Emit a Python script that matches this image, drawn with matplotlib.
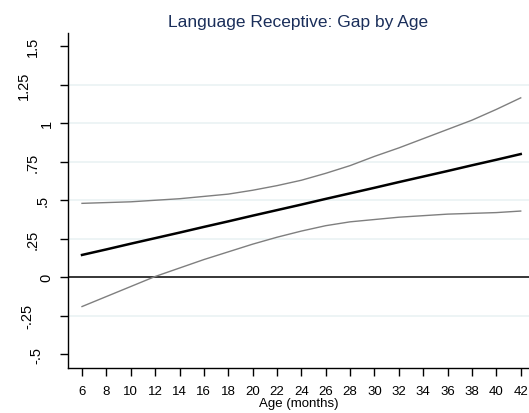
import matplotlib
matplotlib.use("Agg")
import matplotlib.pyplot as plt
from matplotlib.transforms import blended_transform_factory, IdentityTransform

plt.rcParams['font.family'] = ['Liberation Sans', 'DejaVu Sans']

ages = [6, 8, 10, 12, 14, 16, 18, 20, 22, 24, 26, 28, 30, 32, 34, 36, 38, 40, 42]
gap = [0.145, 0.181, 0.218, 0.254, 0.290, 0.327, 0.363, 0.400, 0.436, 0.472,
       0.509, 0.545, 0.581, 0.618, 0.654, 0.690, 0.727, 0.763, 0.800]
upper = [0.48, 0.485, 0.49, 0.50, 0.51, 0.525, 0.54, 0.565, 0.595, 0.63,
         0.675, 0.725, 0.785, 0.84, 0.90, 0.96, 1.02, 1.09, 1.165]
lower = [-0.19, -0.125, -0.06, 0.005, 0.06, 0.115, 0.165, 0.215, 0.26, 0.30,
         0.335, 0.36, 0.375, 0.39, 0.40, 0.41, 0.415, 0.42, 0.43]

yticks = [-0.5, -0.25, 0, 0.25, 0.5, 0.75, 1, 1.25, 1.5]
ytick_labels = ["-.5", "-.25", "0", ".25", ".5", ".75", "1", "1.25", "1.5"]
grid_vals = [-0.25, 0.25, 0.5, 0.75, 1, 1.25]
xticks = list(range(6, 43, 2))

W, H = 529, 414
fig = plt.figure(figsize=(W/100, H/100), dpi=100)
ax = fig.add_axes([68/W, 1 - 369/H, (W-68)/W, (369-34)/H])

for g in grid_vals:
    ax.axhline(g, color="#eaf2f3", lw=1.2, zorder=0)
ax.axhline(0, color="black", lw=1.1, zorder=1)

ax.plot(ages, upper, color="#7f7f7f", lw=1.0, zorder=2)
ax.plot(ages, lower, color="#7f7f7f", lw=1.0, zorder=2)
ax.plot(ages, gap, color="black", lw=1.8, zorder=3)

ax.set_xlim(4.85, 42.68)
ax.set_ylim(-0.589, 1.586)
ax.set_yticks(yticks)
ax.set_yticklabels([])
ax.set_xticks(xticks)
ax.tick_params(axis="both", length=6, width=1, color="black")
ax.tick_params(axis="x", labelsize=9.5, pad=6)

for s in ["top", "right"]:
    ax.spines[s].set_visible(False)
for s in ["left", "bottom"]:
    ax.spines[s].set_linewidth(1.0)

# y tick labels: rotated, shifted left in proportion to their length
trans = blended_transform_factory(IdentityTransform(), ax.transData)
ylabs = []
for v, lab in zip(yticks, ytick_labels):
    t = ax.text(50, v, lab, rotation=90, ha="center", va="center",
                fontsize=10.5, transform=trans, clip_on=False)
    ylabs.append(t)
fig.canvas.draw()
r = fig.canvas.get_renderer()
for t in ylabs:
    bb = t.get_window_extent(r)
    L = bb.height
    t.set_x(56 - 1.13 * L)

ax.set_xlabel("Age (months)", fontsize=9.5, labelpad=0)
fig.text((68+W)/2/W, 1 - 26.5/H, "Language Receptive: Gap by Age",
         ha="center", va="baseline", fontsize=12.5, color="#1a2e5a")

fig.savefig("out.png", dpi=100)
